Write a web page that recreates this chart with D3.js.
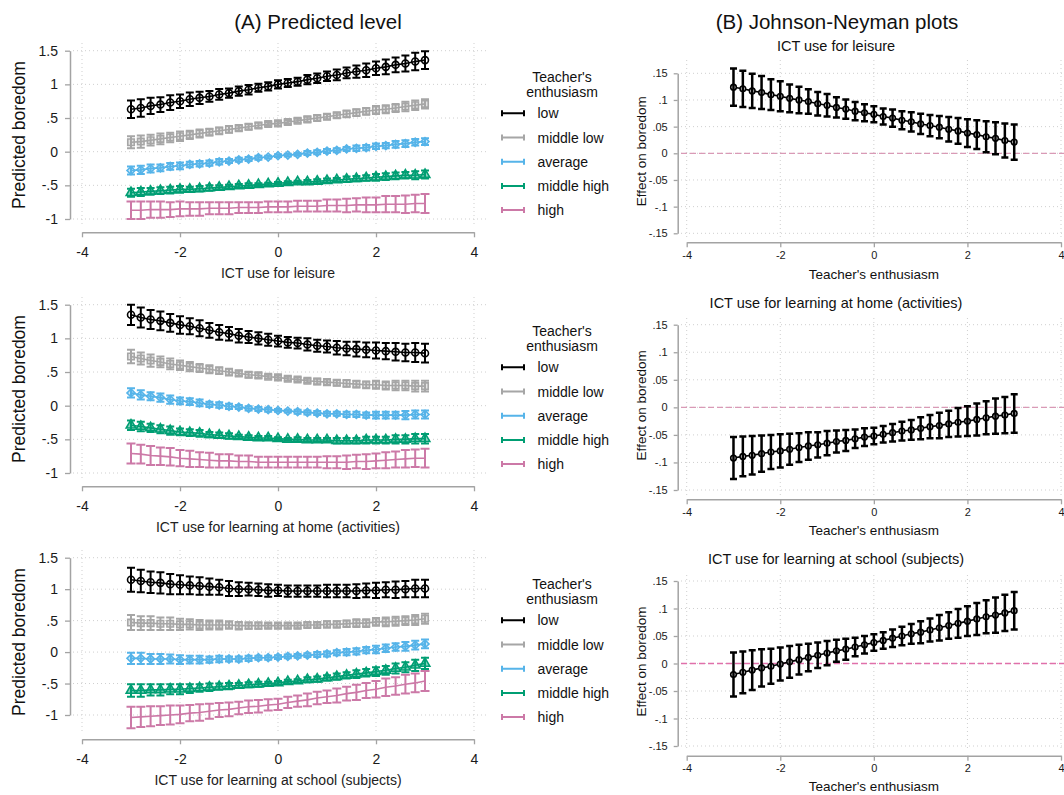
<!DOCTYPE html>
<html>
<head>
<meta charset="utf-8">
<script src="https://cdn.jsdelivr.net/npm/d3@7"></script>
<style>
  body { margin: 0; background: #fff; }
</style>
</head>
<body>
<div id="chart"></div>
<script>
/* CONSTANTS AND GLOBALS */
const width = 1064,
  height = 795,
  font = "'Liberation Sans', Arial, Helvetica, sans-serif",
  axisColor = "#a3a3a3",
  gridColor = "#cfcfcf";

/* DATA */
// moderator / predictor values on the x axis
const xPoints = [-3, -2.8, -2.6, -2.4, -2.2, -2, -1.8, -1.6, -1.4, -1.2, -1, -0.8, -0.6, -0.4, -0.2,
  0, 0.2, 0.4, 0.6, 0.8, 1, 1.2, 1.4, 1.6, 1.8, 2, 2.2, 2.4, 2.6, 2.8, 3];

const levels = ["low", "middle low", "average", "middle high", "high"];
const xTicks = [-4, -2, 0, 2, 4];
const levelTicks = [-1, -0.5, 0, 0.5, 1, 1.5];
const effectTicks = [-0.15, -0.1, -0.05, 0, 0.05, 0.1, 0.15];

const predictors = ["ICT use for leisure", "ICT use for learning at home (activities)", "ICT use for learning at school (subjects)"];

// (A) predicted boredom, ICT use for leisure
const leisureLow = [0.63,0.65,0.68,0.70,0.73,0.75,0.78,0.80,0.82,0.85,0.87,0.90,0.92,0.95,0.97,1.00,1.02,1.04,1.07,1.09,1.12,1.14,1.17,1.19,1.21,1.24,1.26,1.29,1.31,1.34,1.36];
const leisureLowCI = [0.13,0.13,0.12,0.11,0.11,0.10,0.10,0.09,0.08,0.08,0.07,0.07,0.07,0.06,0.06,0.06,0.06,0.06,0.07,0.07,0.07,0.08,0.08,0.09,0.10,0.10,0.11,0.11,0.12,0.13,0.13];
const leisureMidLow = [0.14,0.15,0.17,0.19,0.21,0.23,0.25,0.27,0.29,0.31,0.33,0.35,0.37,0.39,0.41,0.42,0.44,0.46,0.48,0.50,0.52,0.54,0.56,0.58,0.60,0.62,0.63,0.65,0.67,0.69,0.71];
const leisureMidLowCI = [0.09,0.09,0.08,0.08,0.07,0.07,0.06,0.06,0.05,0.05,0.05,0.04,0.04,0.04,0.03,0.03,0.03,0.03,0.04,0.04,0.04,0.04,0.05,0.05,0.05,0.06,0.06,0.06,0.07,0.07,0.07];
const leisureAvg = [-0.28,-0.27,-0.25,-0.24,-0.22,-0.21,-0.19,-0.18,-0.17,-0.15,-0.14,-0.12,-0.11,-0.09,-0.08,-0.06,-0.05,-0.04,-0.02,-0.01,0.01,0.02,0.04,0.05,0.06,0.08,0.09,0.11,0.12,0.14,0.15];
const leisureAvgCI = [0.06,0.06,0.06,0.05,0.05,0.05,0.04,0.04,0.04,0.04,0.03,0.03,0.03,0.03,0.02,0.02,0.02,0.02,0.03,0.03,0.03,0.03,0.03,0.04,0.04,0.04,0.04,0.05,0.05,0.05,0.05];
const leisureMidHigh = [-0.61,-0.60,-0.59,-0.58,-0.57,-0.56,-0.56,-0.55,-0.54,-0.53,-0.52,-0.51,-0.50,-0.49,-0.48,-0.47,-0.46,-0.45,-0.45,-0.44,-0.43,-0.42,-0.41,-0.40,-0.39,-0.38,-0.37,-0.36,-0.35,-0.35,-0.34];
const leisureMidHighCI = [0.06,0.06,0.05,0.05,0.05,0.05,0.04,0.04,0.04,0.03,0.03,0.03,0.03,0.02,0.02,0.02,0.02,0.02,0.03,0.03,0.03,0.03,0.04,0.04,0.04,0.05,0.05,0.05,0.05,0.06,0.06];
const leisureHigh = [-0.87,-0.87,-0.86,-0.86,-0.86,-0.85,-0.85,-0.85,-0.84,-0.84,-0.84,-0.83,-0.83,-0.83,-0.82,-0.82,-0.82,-0.81,-0.81,-0.81,-0.80,-0.80,-0.80,-0.79,-0.79,-0.79,-0.78,-0.78,-0.78,-0.77,-0.77];
const leisureHighCI = [0.13,0.13,0.12,0.12,0.11,0.11,0.10,0.10,0.09,0.09,0.09,0.08,0.08,0.08,0.08,0.08,0.08,0.08,0.08,0.08,0.09,0.09,0.10,0.10,0.11,0.11,0.12,0.12,0.13,0.13,0.14];

// (A) predicted boredom, ICT use for learning at home
const homeLow = [1.35,1.31,1.28,1.26,1.23,1.20,1.18,1.15,1.12,1.09,1.07,1.04,1.02,1.00,0.98,0.96,0.94,0.93,0.91,0.89,0.88,0.86,0.85,0.84,0.83,0.82,0.81,0.80,0.79,0.79,0.78];
const homeLowCI = [0.15,0.15,0.14,0.14,0.13,0.13,0.12,0.12,0.11,0.11,0.10,0.10,0.09,0.09,0.09,0.08,0.08,0.08,0.09,0.09,0.09,0.10,0.10,0.11,0.11,0.12,0.12,0.13,0.13,0.14,0.14];
const homeMidLow = [0.73,0.70,0.67,0.65,0.62,0.60,0.58,0.56,0.54,0.52,0.50,0.48,0.46,0.45,0.43,0.42,0.40,0.39,0.37,0.36,0.35,0.34,0.33,0.32,0.31,0.31,0.30,0.30,0.30,0.29,0.29];
const homeMidLowCI = [0.10,0.09,0.09,0.08,0.08,0.07,0.07,0.06,0.06,0.05,0.05,0.04,0.04,0.04,0.03,0.03,0.03,0.03,0.03,0.04,0.04,0.04,0.05,0.05,0.05,0.06,0.06,0.07,0.07,0.08,0.08];
const homeAvg = [0.19,0.16,0.14,0.12,0.09,0.07,0.06,0.04,0.02,0.01,-0.01,-0.02,-0.04,-0.05,-0.06,-0.07,-0.08,-0.09,-0.10,-0.11,-0.12,-0.12,-0.13,-0.13,-0.14,-0.14,-0.14,-0.14,-0.14,-0.13,-0.13];
const homeAvgCI = [0.07,0.07,0.06,0.06,0.06,0.05,0.05,0.05,0.04,0.04,0.04,0.03,0.03,0.03,0.03,0.02,0.02,0.03,0.03,0.03,0.03,0.03,0.04,0.04,0.04,0.05,0.05,0.05,0.06,0.06,0.06];
const homeMidHigh = [-0.29,-0.31,-0.33,-0.35,-0.37,-0.39,-0.40,-0.41,-0.43,-0.44,-0.45,-0.46,-0.47,-0.48,-0.48,-0.49,-0.50,-0.50,-0.51,-0.51,-0.51,-0.52,-0.52,-0.52,-0.51,-0.51,-0.51,-0.50,-0.50,-0.49,-0.49];
const homeMidHighCI = [0.07,0.07,0.06,0.06,0.06,0.05,0.05,0.05,0.04,0.04,0.04,0.03,0.03,0.03,0.03,0.02,0.02,0.03,0.03,0.03,0.03,0.04,0.04,0.04,0.05,0.05,0.05,0.06,0.06,0.07,0.07];
const homeHigh = [-0.71,-0.72,-0.74,-0.75,-0.76,-0.78,-0.79,-0.80,-0.81,-0.82,-0.82,-0.83,-0.83,-0.84,-0.84,-0.84,-0.84,-0.84,-0.84,-0.84,-0.84,-0.84,-0.84,-0.83,-0.83,-0.82,-0.81,-0.80,-0.79,-0.78,-0.78];
const homeHighCI = [0.15,0.14,0.14,0.13,0.13,0.12,0.12,0.11,0.11,0.10,0.10,0.09,0.09,0.08,0.08,0.08,0.08,0.08,0.08,0.08,0.09,0.09,0.10,0.10,0.11,0.11,0.12,0.12,0.13,0.13,0.14];

// (A) predicted boredom, ICT use for learning at school
const schoolLow = [1.15,1.13,1.11,1.10,1.08,1.07,1.06,1.05,1.04,1.03,1.01,1.00,1.00,0.99,0.98,0.98,0.97,0.97,0.97,0.97,0.97,0.97,0.97,0.97,0.98,0.98,0.99,0.99,1.00,1.01,1.01];
const schoolLowCI = [0.19,0.18,0.17,0.17,0.16,0.15,0.14,0.14,0.13,0.12,0.12,0.11,0.10,0.10,0.10,0.09,0.09,0.09,0.09,0.09,0.10,0.10,0.10,0.11,0.11,0.12,0.12,0.13,0.13,0.14,0.14];
const schoolMidLow = [0.47,0.46,0.46,0.45,0.45,0.44,0.44,0.43,0.43,0.43,0.43,0.42,0.42,0.42,0.42,0.42,0.42,0.42,0.43,0.43,0.44,0.44,0.45,0.46,0.46,0.48,0.48,0.49,0.50,0.51,0.53];
const schoolMidLowCI = [0.12,0.11,0.11,0.10,0.10,0.09,0.08,0.08,0.07,0.07,0.06,0.06,0.05,0.05,0.04,0.04,0.04,0.04,0.04,0.04,0.05,0.05,0.05,0.06,0.06,0.06,0.07,0.07,0.07,0.08,0.08];
const schoolAvg = [-0.10,-0.10,-0.11,-0.11,-0.11,-0.12,-0.12,-0.12,-0.12,-0.11,-0.11,-0.11,-0.10,-0.09,-0.09,-0.08,-0.07,-0.06,-0.05,-0.04,-0.03,-0.01,0.00,0.01,0.03,0.04,0.06,0.08,0.09,0.11,0.13];
const schoolAvgCI = [0.09,0.09,0.08,0.08,0.07,0.07,0.06,0.06,0.05,0.05,0.04,0.04,0.04,0.03,0.03,0.03,0.03,0.03,0.03,0.04,0.04,0.04,0.05,0.05,0.05,0.06,0.06,0.06,0.07,0.07,0.07];
const schoolMidHigh = [-0.61,-0.61,-0.60,-0.60,-0.59,-0.59,-0.58,-0.57,-0.56,-0.55,-0.54,-0.53,-0.52,-0.51,-0.50,-0.49,-0.47,-0.46,-0.44,-0.43,-0.41,-0.39,-0.37,-0.35,-0.33,-0.31,-0.29,-0.26,-0.24,-0.21,-0.18];
const schoolMidHighCI = [0.10,0.10,0.09,0.09,0.08,0.08,0.07,0.06,0.06,0.05,0.05,0.04,0.04,0.04,0.03,0.03,0.03,0.03,0.04,0.04,0.04,0.05,0.05,0.06,0.06,0.07,0.07,0.08,0.08,0.09,0.09];
const schoolHigh = [-1.04,-1.03,-1.02,-1.01,-1.00,-0.99,-0.97,-0.96,-0.94,-0.92,-0.91,-0.89,-0.87,-0.86,-0.84,-0.83,-0.80,-0.78,-0.76,-0.73,-0.71,-0.69,-0.66,-0.64,-0.61,-0.59,-0.56,-0.54,-0.51,-0.49,-0.46];
const schoolHighCI = [0.17,0.16,0.16,0.15,0.15,0.14,0.13,0.13,0.12,0.11,0.11,0.10,0.10,0.10,0.09,0.09,0.09,0.09,0.10,0.10,0.10,0.11,0.11,0.12,0.12,0.13,0.14,0.14,0.15,0.15,0.16];

// (B) Johnson-Neyman: effect on boredom over teacher's enthusiasm
const jnLeisure = [0.124,0.121,0.117,0.114,0.110,0.107,0.103,0.100,0.097,0.093,0.090,0.086,0.083,0.079,0.076,0.073,0.069,0.066,0.062,0.059,0.055,0.052,0.049,0.045,0.042,0.038,0.035,0.031,0.028,0.024,0.021];
const jnLeisureCI = [0.035,0.034,0.032,0.031,0.029,0.028,0.026,0.025,0.023,0.022,0.021,0.019,0.018,0.017,0.016,0.015,0.015,0.016,0.017,0.018,0.019,0.020,0.021,0.023,0.024,0.026,0.027,0.029,0.030,0.032,0.033];
const jnHome = [-0.092,-0.089,-0.087,-0.084,-0.081,-0.079,-0.076,-0.073,-0.070,-0.068,-0.065,-0.062,-0.060,-0.057,-0.054,-0.052,-0.049,-0.046,-0.043,-0.041,-0.038,-0.035,-0.033,-0.030,-0.027,-0.025,-0.022,-0.019,-0.016,-0.014,-0.011];
const jnHomeCI = [0.038,0.036,0.035,0.033,0.031,0.030,0.028,0.026,0.025,0.023,0.022,0.020,0.019,0.017,0.016,0.015,0.015,0.016,0.017,0.018,0.020,0.021,0.023,0.024,0.026,0.027,0.029,0.030,0.032,0.033,0.035];
const jnSchool = [-0.020,-0.016,-0.012,-0.008,-0.005,-0.001,0.003,0.007,0.011,0.015,0.019,0.023,0.026,0.030,0.034,0.038,0.042,0.046,0.050,0.054,0.057,0.061,0.065,0.069,0.073,0.077,0.081,0.085,0.088,0.092,0.096];
const jnSchoolCI = [0.040,0.038,0.036,0.034,0.032,0.030,0.029,0.027,0.025,0.023,0.022,0.020,0.019,0.017,0.016,0.015,0.015,0.016,0.017,0.018,0.020,0.021,0.023,0.024,0.026,0.027,0.029,0.030,0.032,0.033,0.034];

/* STYLES */
const levelColors = ["#000000", "#a6a6a6", "#56b4e9", "#009e73", "#cc79a7"];
const levelSymbols = [d3.symbolCircle, d3.symbolSquare, d3.symbolSquare, d3.symbolTriangle, null];
const levelSymbolRotate = [0, 0, 45, 0, 0];
const levelSymbolSize = [38, 42, 32, 40, 0];
const levelFillOpacity = [0, 0.3, 0.3, 0.45, 0];
const zeroColors = ["#d99ab6", "#d99ab6", "#e070aa"];

// panel layouts (pixels)
const levelLayout = [
  { top: 0, yMinus1: 219 },
  { top: 254, yMinus1: 219 },
  { top: 507, yMinus1: 208 }
];
const jnLayout = [
  { yHi: 73.3, yLo: 233.3, axisY: 242.3, subY: 51, gridTop: 60, gridBot: 237, titleY: 279 },
  { yHi: 324.7, yLo: 490, axisY: 499.3, subY: 308, gridTop: 318, gridBot: 495, titleY: 535 },
  { yHi: 581, yLo: 746, axisY: 755.7, subY: 564, gridTop: 575, gridBot: 751, titleY: 791 }
];

const levelData = [
  { est: [leisureLow, leisureMidLow, leisureAvg, leisureMidHigh, leisureHigh],
    ci: [leisureLowCI, leisureMidLowCI, leisureAvgCI, leisureMidHighCI, leisureHighCI] },
  { est: [homeLow, homeMidLow, homeAvg, homeMidHigh, homeHigh],
    ci: [homeLowCI, homeMidLowCI, homeAvgCI, homeMidHighCI, homeHighCI] },
  { est: [schoolLow, schoolMidLow, schoolAvg, schoolMidHigh, schoolHigh],
    ci: [schoolLowCI, schoolMidLowCI, schoolAvgCI, schoolMidHighCI, schoolHighCI] }
];
const jnData = [
  { est: jnLeisure, ci: jnLeisureCI },
  { est: jnHome, ci: jnHomeCI },
  { est: jnSchool, ci: jnSchoolCI }
];

// stata style numbers: .5, -.05
const fmt = d => d === 0 ? "0" : String(d).replace("0.", ".");

let svg;

/* INIT */
function init() {
  svg = d3.select("#chart")
    .append("svg")
    .attr("width", width)
    .attr("height", height)
    .style("font-family", font);

  svg.append("text")
    .attr("x", 318).attr("y", 29)
    .attr("text-anchor", "middle")
    .attr("font-size", 20.5)
    .attr("fill", "#111")
    .text("(A) Predicted level");

  svg.append("text")
    .attr("x", 837).attr("y", 29)
    .attr("text-anchor", "middle")
    .attr("font-size", 20.5)
    .attr("fill", "#111")
    .text("(B) Johnson-Neyman plots");

  predictors.forEach((p, i) => {
    drawLevelPanel(i);
    drawJNPanel(i);
  });
}

function styleAxis(g, size) {
  g.attr("font-family", font).attr("font-size", size);
  g.select(".domain").attr("stroke", axisColor).attr("stroke-width", 1.5);
  g.selectAll(".tick line").attr("stroke", axisColor).attr("stroke-width", 1.3);
  g.selectAll(".tick text").attr("fill", "#1a1a1a");
}

// vertical bar with caps for one point
function errorPath(x, y, d, cap) {
  const cx = x(d.x), y1 = y(d.y + d.h), y2 = y(d.y - d.h);
  return `M${cx},${y1}V${y2}M${cx - cap},${y1}H${cx + cap}M${cx - cap},${y2}H${cx + cap}`;
}

/* LEFT: predicted level */
function drawLevelPanel(i) {
  const lay = levelLayout[i], top = lay.top, dat = levelData[i];

  const xScale = d3.scaleLinear().domain([-4, 4]).range([82, 474]);
  const yScale = d3.scaleLinear().domain([-1, 1.5]).range([top + lay.yMinus1, top + 50.7]);

  const g = svg.append("g");

  // grid
  g.selectAll(".hgrid").data(levelTicks).join("line")
    .attr("x1", 73).attr("x2", 486)
    .attr("y1", d => yScale(d)).attr("y2", d => yScale(d))
    .attr("stroke", gridColor).attr("stroke-dasharray", "1,3");
  g.selectAll(".vgrid").data(xTicks).join("line")
    .attr("x1", d => xScale(d)).attr("x2", d => xScale(d))
    .attr("y1", top + 43).attr("y2", top + 224)
    .attr("stroke", gridColor).attr("stroke-dasharray", "1,3");

  // axes
  g.append("g")
    .attr("transform", `translate(70,0)`)
    .call(d3.axisLeft(yScale).tickValues(levelTicks).tickFormat(fmt).tickSize(5).tickPadding(7).tickSizeOuter(0))
    .call(a => styleAxis(a, 14));
  g.append("g")
    .attr("transform", `translate(0,${top + 232.3})`)
    .call(d3.axisBottom(xScale).tickValues(xTicks).tickFormat(fmt).tickSize(5).tickPadding(10).tickSizeOuter(0))
    .call(a => styleAxis(a, 14));

  g.append("text")
    .attr("transform", `translate(25,${top + 135}) rotate(-90)`)
    .attr("text-anchor", "middle")
    .attr("font-size", 17.5)
    .attr("fill", "#111")
    .text("Predicted boredom");

  g.append("text")
    .attr("x", xScale(0)).attr("y", top + 278)
    .attr("text-anchor", "middle")
    .attr("font-size", 14)
    .attr("fill", "#222")
    .text(predictors[i]);

  // series
  const series = levels.map((lvl, k) => xPoints.map((x, j) => ({ x: x, y: dat.est[k][j], h: dat.ci[k][j] })));
  const line = d3.line().x(d => xScale(d.x)).y(d => yScale(d.y));

  series.forEach((s, k) => {
    g.append("path")
      .attr("d", s.map(d => errorPath(xScale, yScale, d, k === 4 ? 4.5 : 4)).join(""))
      .attr("fill", "none")
      .attr("stroke", levelColors[k])
      .attr("stroke-width", 2);
  });
  series.forEach((s, k) => {
    g.append("path")
      .datum(s)
      .attr("d", line)
      .attr("fill", "none")
      .attr("stroke", levelColors[k])
      .attr("stroke-width", 1.6);
    if (levelSymbols[k]) {
      g.selectAll(`.mk${k}`).data(s).join("path")
        .attr("transform", d => `translate(${xScale(d.x)},${yScale(d.y)}) rotate(${levelSymbolRotate[k]})`)
        .attr("d", d3.symbol(levelSymbols[k], levelSymbolSize[k]))
        .attr("fill", levelColors[k])
        .attr("fill-opacity", levelFillOpacity[k])
        .attr("stroke", levelColors[k])
        .attr("stroke-width", 1.6);
    }
  });

  // legend
  const leg = g.append("g").attr("transform", `translate(0,${top})`);
  leg.append("text").attr("x", 562).attr("y", 82).attr("text-anchor", "middle")
    .attr("font-size", 14).attr("fill", "#111").text("Teacher's");
  leg.append("text").attr("x", 562).attr("y", 97).attr("text-anchor", "middle")
    .attr("font-size", 14).attr("fill", "#111").text("enthusiasm");
  const item = leg.selectAll(".item").data(levels).join("g")
    .attr("transform", (d, k) => `translate(0,${113.3 + k * 24.2})`);
  item.append("path")
    .attr("d", "M502,0H524M502,-3V3M524,-3V3")
    .attr("fill", "none")
    .attr("stroke", (d, k) => levelColors[k])
    .attr("stroke-width", 2);
  item.append("text")
    .attr("x", 537.5).attr("y", 5)
    .attr("font-size", 14).attr("fill", "#111")
    .text(d => d);
}

/* RIGHT: Johnson-Neyman */
function drawJNPanel(i) {
  const lay = jnLayout[i], dat = jnData[i];

  const xScale = d3.scaleLinear().domain([-4, 4]).range([686.7, 1061]);
  const yScale = d3.scaleLinear().domain([-0.15, 0.15]).range([lay.yLo, lay.yHi]);

  const g = svg.append("g");

  g.selectAll(".hgrid").data(effectTicks).join("line")
    .attr("x1", 681).attr("x2", 1064)
    .attr("y1", d => yScale(d)).attr("y2", d => yScale(d))
    .attr("stroke", gridColor).attr("stroke-dasharray", "1,3");
  g.selectAll(".vgrid").data(xTicks).join("line")
    .attr("x1", d => xScale(d)).attr("x2", d => xScale(d))
    .attr("y1", lay.gridTop).attr("y2", lay.gridBot)
    .attr("stroke", gridColor).attr("stroke-dasharray", "1,3");

  // zero reference line
  g.append("line")
    .attr("x1", 681).attr("x2", 1064)
    .attr("y1", yScale(0)).attr("y2", yScale(0))
    .attr("stroke", zeroColors[i])
    .attr("stroke-width", 1.3)
    .attr("stroke-dasharray", "6,3");

  g.append("g")
    .attr("transform", `translate(677.7,0)`)
    .call(d3.axisLeft(yScale).tickValues(effectTicks).tickFormat(fmt).tickSize(4).tickPadding(6).tickSizeOuter(0))
    .call(a => styleAxis(a, 11));
  g.append("g")
    .attr("transform", `translate(0,${lay.axisY})`)
    .call(d3.axisBottom(xScale).tickValues(xTicks).tickFormat(fmt).tickSize(5).tickPadding(4).tickSizeOuter(0))
    .call(a => styleAxis(a, 11));

  g.append("text")
    .attr("transform", `translate(646,${yScale(0) - 2}) rotate(-90)`)
    .attr("text-anchor", "middle")
    .attr("font-size", 13.5)
    .attr("fill", "#111")
    .text("Effect on boredom");

  g.append("text")
    .attr("x", xScale(0)).attr("y", lay.titleY)
    .attr("text-anchor", "middle")
    .attr("font-size", 13.5)
    .attr("fill", "#111")
    .text("Teacher's enthusiasm");

  g.append("text")
    .attr("x", 836).attr("y", lay.subY)
    .attr("text-anchor", "middle")
    .attr("font-size", 14.5)
    .attr("fill", "#111")
    .text(predictors[i]);

  const s = xPoints.map((x, j) => ({ x: x, y: dat.est[j], h: dat.ci[j] }));

  g.append("path")
    .datum(s)
    .attr("d", d3.line().x(d => xScale(d.x)).y(d => yScale(d.y)))
    .attr("fill", "none")
    .attr("stroke", "#000")
    .attr("stroke-width", 1.6);

  g.selectAll(".mk").data(s).join("circle")
    .attr("cx", d => xScale(d.x))
    .attr("cy", d => yScale(d.y))
    .attr("r", 2.8)
    .attr("fill", "#fff")
    .attr("stroke", "#000")
    .attr("stroke-width", 1.6);

  g.append("path")
    .attr("d", s.map(d => errorPath(xScale, yScale, d, 3.5)).join(""))
    .attr("fill", "none")
    .attr("stroke", "#000")
    .attr("stroke-width", 2.5);
}

init();
</script>
</body>
</html>
